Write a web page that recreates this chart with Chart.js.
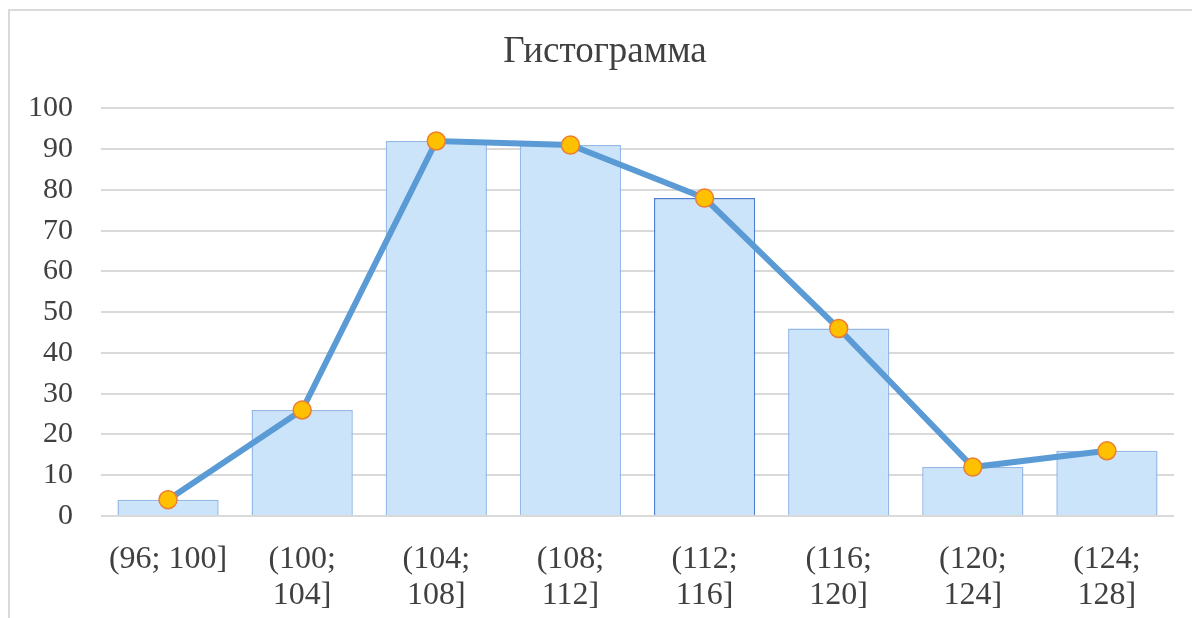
<!DOCTYPE html>
<html>
<head>
<meta charset="utf-8">
<script src="https://cdn.jsdelivr.net/npm/chart.js@4"></script>
<style>
  html, body { margin: 0; padding: 0; background: #fff; }
  #frame {
    position: absolute; left: 8px; top: 9px; width: 1300px; height: 700px;
    border-top: 2px solid #d9d9d9; border-left: 2px solid #d9d9d9;
  }
  #wrap { position: absolute; left: 0; top: 0; width: 1192px; height: 618px; }
</style>
</head>
<body>
<div id="frame"></div>
<div id="wrap"><canvas id="histChart"></canvas></div>
<script>
const categories = [
    '(96; 100]',
    ['(100;', '104]'],
    ['(104;', '108]'],
    ['(108;', '112]'],
    ['(112;', '116]'],
    ['(116;', '120]'],
    ['(120;', '124]'],
    ['(124;', '128]']
];
const barValues = [4, 26, 92, 91, 78, 46, 12, 16];
const lineValues = [4, 26, 92, 91, 78, 46, 12, 16];
const yTicks = [0, 10, 20, 30, 40, 50, 60, 70, 80, 90, 100];

// nudge the title a bit to the right, like in the original
const titleShift = {
    id: 'titleShift',
    afterLayout(chart) {
        if (chart.titleBlock) chart.titleBlock.left += 36;
    }
};

document.addEventListener('DOMContentLoaded', function () {
    const ctx = document.getElementById('histChart').getContext('2d');
    const serif = "'Liberation Serif', 'DejaVu Serif', serif";

    new Chart(ctx, {
        data: {
            labels: categories,
            datasets: [{
                type: 'line',
                data: lineValues,
                borderColor: '#5b9bd5',
                borderWidth: 6,
                pointRadius: 9,
                pointBackgroundColor: '#ffc000',
                pointBorderColor: '#ed7d31',
                pointBorderWidth: 1.5,
                tension: 0,
                order: 0
            }, {
                type: 'bar',
                data: barValues,
                backgroundColor: '#cce4fa',
                borderColor: ['#95b9e6', '#95b9e6', '#95b9e6', '#95b9e6', '#4f7fd0', '#95b9e6', '#95b9e6', '#95b9e6'],
                borderWidth: 1.5,
                categoryPercentage: 1,
                barPercentage: 0.755,
                order: 1
            }]
        },
        options: {
            responsive: true,
            maintainAspectRatio: false,
            animation: false,
            layout: { padding: { right: 18, top: 0, left: 0, bottom: 0 } },
            plugins: {
                legend: { display: false },
                tooltip: { enabled: false },
                title: {
                    display: true,
                    text: 'Гистограмма',
                    color: '#404040',
                    font: { family: serif, size: 37, weight: 'normal' },
                    padding: { top: 30, bottom: 34 }
                }
            },
            scales: {
                x: {
                    grid: { display: false },
                    border: { display: false },
                    ticks: {
                        color: '#404040',
                        font: { family: serif, size: 32, lineHeight: 1.14 },
                        maxRotation: 0,
                        autoSkip: false,
                        padding: 17
                    },
                    afterFit: s => { s.height = 102; }
                },
                y: {
                    min: 0,
                    max: 100,
                    afterBuildTicks: s => { s.ticks = yTicks.map(v => ({ value: v })); },
                    grid: { color: '#d9d9d9', lineWidth: 2, drawTicks: false },
                    border: { display: false },
                    ticks: {
                        color: '#404040',
                        font: { family: serif, size: 30 },
                        padding: 28
                    },
                    afterFit: s => { s.width = 101; }
                }
            }
        },
        plugins: [titleShift]
    });
});
</script>
</body>
</html>
